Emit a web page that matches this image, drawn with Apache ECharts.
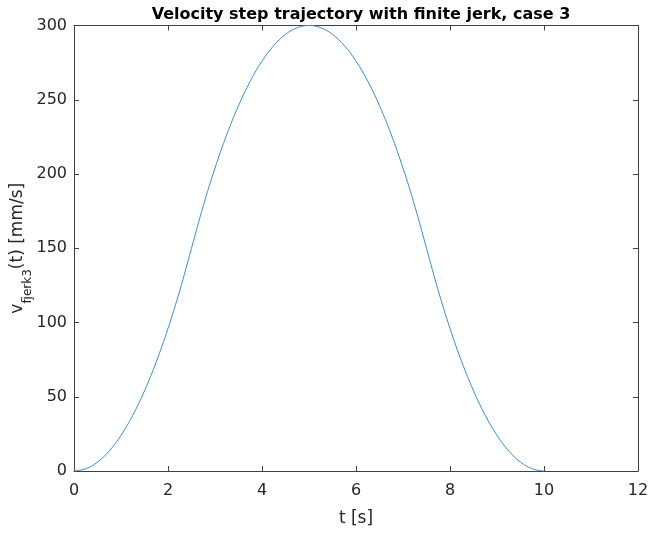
<!DOCTYPE html>
<html>
<head>
<meta charset="utf-8">
<script src="https://cdn.jsdelivr.net/npm/echarts@6/dist/echarts.min.js"></script>
<style>html,body{margin:0;padding:0;background:#fff;}#c{width:648px;height:535px;}</style>
</head>
<body>
<div id="c"></div>
<script>
// time samples [s]
const tValues = [0,0.25,0.5,0.75,1,1.25,1.5,1.75,2,2.25,2.5,2.75,3,3.25,3.5,3.75,4,4.25,4.5,4.75,5,
  5.25,5.5,5.75,6,6.25,6.5,6.75,7,7.25,7.5,7.75,8,8.25,8.5,8.75,9,9.25,9.5,9.75,10];
// velocity [mm/s]
const vValues = [0,1.5,6,13.5,24,37.5,54,73.5,96,121.5,150,178.5,204,226.5,246,262.5,276,286.5,294,298.5,300,
  298.5,294,286.5,276,262.5,246,226.5,204,178.5,150,121.5,96,73.5,54,37.5,24,13.5,6,1.5,0];
const xTicks = [0,2,4,6,8,10,12];
const yTicks = [0,50,100,150,200,250,300];

const font = '"DejaVu Sans", Verdana, sans-serif';
const axisCol = '#404040';
const txtCol = '#262626';
const chart = echarts.init(document.getElementById('c'), null, {renderer:'canvas'});
const data = tValues.map((t,i)=>[t, vValues[i]]);
const lineStyle = {color: axisCol, width: 1};
const tickIn = {show:true, inside:true, length:5, lineStyle:{color: axisCol, width:1}};
const xTickLabel = v => xTicks.includes(v) ? String(v) : '';
const yTickLabel = v => yTicks.includes(v) ? String(v) : '';
chart.setOption({
  animation:false,
  backgroundColor:'#fff',
  title:{
    text:'Velocity step trajectory with finite jerk, case 3',
    left:356, top:2, textAlign:'center',
    textStyle:{fontFamily:font, fontSize:16, fontWeight:'bold', color:'#000'}
  },
  grid:{left:74, right:10, top:25.5, bottom:64, containLabel:false, outerBoundsMode:'none'},
  xAxis:[{
    type:'value', min:xTicks[0], max:xTicks[xTicks.length-1], interval:2,
    axisLine:{show:true, onZero:false, lineStyle}, axisTick:tickIn, splitLine:{show:false},
    axisLabel:{fontFamily:font, fontSize:16, color:txtCol, margin:12, formatter:xTickLabel},
    name:'t [s]', nameLocation:'middle', nameGap:39, nameMoveOverlap:false,
    nameTextStyle:{fontFamily:font, fontSize:17, color:txtCol}
  },{
    type:'value', position:'top', min:xTicks[0], max:xTicks[xTicks.length-1], interval:2,
    axisLine:{show:true, onZero:false, lineStyle}, axisTick:tickIn, axisLabel:{show:false}, splitLine:{show:false}
  }],
  yAxis:[{
    type:'value', min:yTicks[0], max:yTicks[yTicks.length-1], interval:50,
    axisLine:{show:true, onZero:false, lineStyle}, axisTick:tickIn, splitLine:{show:false},
    axisLabel:{fontFamily:font, fontSize:16, color:txtCol, margin:7, formatter:yTickLabel},
    name:'v{s|fjerk3}(t) [mm/s]', nameLocation:'middle', nameGap:56, nameRotate:90, nameMoveOverlap:false,
    nameTextStyle:{fontFamily:font, fontSize:17, color:txtCol, lineHeight:24, verticalAlign:'middle',
      rich:{s:{fontFamily:font, fontSize:12, color:txtCol, verticalAlign:'bottom', lineHeight:24, padding:[0,0,-4,0]}}}
  },{
    type:'value', position:'right', min:yTicks[0], max:yTicks[yTicks.length-1], interval:50,
    axisLine:{show:true, onZero:false, lineStyle}, axisTick:tickIn, axisLabel:{show:false}, splitLine:{show:false}
  }],
  series:[{
    type:'line', data:data, xAxisIndex:0, yAxisIndex:0,
    showSymbol:false, smooth:0.4,
    lineStyle:{color:'#3a8fd3', width:1}
  }]
});
</script>
</body>
</html>
